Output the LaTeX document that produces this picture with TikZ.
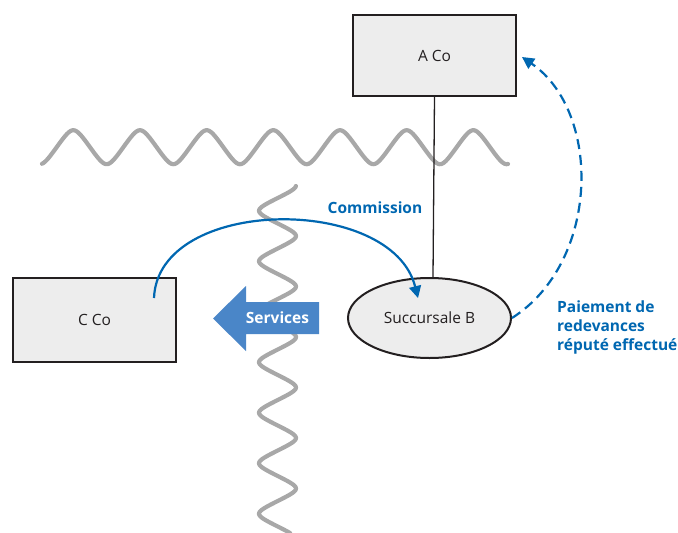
\documentclass[tikz,border=0pt]{standalone}
\usepackage{fontspec}
\setmainfont{Open Sans}
\usetikzlibrary{shapes.geometric,arrows.meta}

\definecolor{linkblue}{RGB}{0,103,177}
\definecolor{svcblue}{RGB}{74,134,200}
\definecolor{wavegray}{RGB}{168,168,168}
\definecolor{boxfill}{RGB}{237,237,237}
\definecolor{boxline}{RGB}{35,31,32}

\tikzset{
  entity/.style={draw=boxline, line width=2pt, fill=boxfill, rectangle,
    minimum width=163pt, minimum height=81pt, inner sep=0pt,
    text=boxline, font=\fontsize{15.5}{18}\selectfont},
  branch/.style={entity, ellipse, minimum width=163pt, minimum height=80pt},
  wave/.style={draw=wavegray, line width=4.2pt, line cap=round, line join=round},
  owner/.style={draw=boxline, line width=1.3pt},
  flow/.style={draw=linkblue, line width=2.2pt,
    -{Triangle[length=12pt,width=12pt]}},
  deemed/.style={flow, dash pattern=on 10pt off 6pt},
  lbl/.style={text=linkblue, font=\bfseries\fontsize{15.5}{19}\selectfont, inner sep=0pt},
  svctext/.style={text=white, font=\bfseries\fontsize{15.5}{18}\selectfont, inner sep=0pt}
}

\begin{document}
\begin{tikzpicture}[x=1pt,y=-1pt]
\useasboundingbox (0,0) rectangle (678,533);

% borders between jurisdictions: zigzags with rounded turns
% (periods 66.67 and 50.5; asin(0.8) = 53.13)
\draw[wave] plot[domain=42:508, samples=300]
  (\x, {147.2 + 17*asin(0.8*cos(5.4*(\x-40)))/53.13});
\draw[wave] plot[domain=186:533, samples=300]
  ({277.5 + 18.5*asin(0.8*cos(7.1287*(\x-185.5)))/53.13}, \x);

% entities
\node[entity] (a) at (434.5,55.5) {A Co};
\node[entity, minimum height=84pt] (c) at (94.5,320) {C Co};
\node[branch] (b) at (429.5,318) {Succursale B};

% ownership link
\draw[owner] (a.south) -- ([xshift=3.5pt]b.north);

% services flow
\fill[svcblue] (319,302) -- (246,302) -- (246,286) -- (213,318.5)
  -- (246,351) -- (246,334) -- (319,334) -- cycle;
\node[svctext] (svc) at (277.5,318) {Services};

% commission paid to the branch
\coordinate (cfrom) at (154,298);
\coordinate (cto) at (418,298);
\draw[flow] (cfrom) .. controls (158,196) and (392,194) .. (cto);
\node[lbl] (comm) at (375,208) {Commission};

% deemed royalty payment
\coordinate (pto) at (522,57);
\draw[deemed] (b.east) .. controls (600,262) and (602,112) .. (pto);
\node[lbl, align=left, anchor=west] (pay) at (557,327)
  {Paiement de\\redevances\\réputé effectué};
\end{tikzpicture}
\end{document}
